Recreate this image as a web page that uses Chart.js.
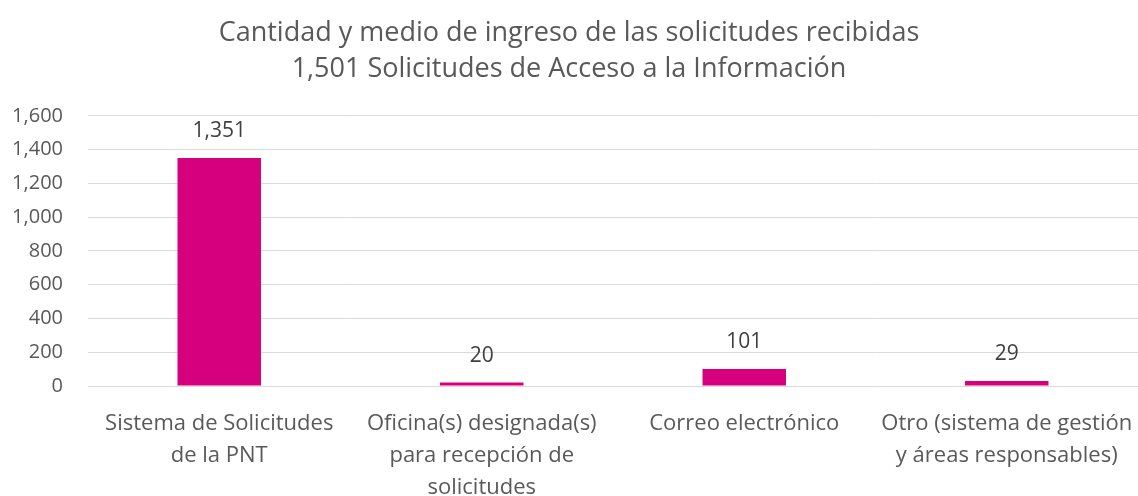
<!DOCTYPE html>
<html>
<head>
<meta charset="utf-8">
<script src="https://cdn.jsdelivr.net/npm/chart.js@4"></script>
<style>
  html, body { margin: 0; padding: 0; background: #fff; }
  #wrap { width: 1138px; height: 496px; }
</style>
</head>
<body>
<div id="wrap"><canvas id="grafica" width="1138" height="496"></canvas></div>
<script>
// datos
const categorias = [
  ['Sistema de Solicitudes', 'de la PNT'],
  ['Oficina(s) designada(s)', 'para recepción de', 'solicitudes'],
  ['Correo electrónico'],
  ['Otro (sistema de gestión', 'y áreas responsables)']
];
const solicitudes = [1351, 20, 101, 29];
const titulo = [
  'Cantidad y medio de ingreso de las solicitudes recibidas',
  '1,501 Solicitudes de Acceso a la Información'
];

const fuente = '"Open Sans", "Noto Sans", sans-serif';
const gris = '#595959';

// etiquetas encima de cada barra
const etiquetas = {
  id: 'etiquetas',
  afterDatasetsDraw(chart) {
    const ctx = chart.ctx;
    const meta = chart.getDatasetMeta(0);
    ctx.save();
    ctx.font = '21px ' + fuente;
    ctx.fillStyle = '#404040';
    ctx.textAlign = 'center';
    ctx.textBaseline = 'middle';
    meta.data.forEach((bar, i) => {
      const v = chart.data.datasets[0].data[i];
      ctx.fillText(v.toLocaleString('en-US'), bar.x, bar.y - 27);
    });
    ctx.restore();
  }
};

const ctx = document.getElementById('grafica').getContext('2d');
new Chart(ctx, {
  type: 'bar',
  data: {
    labels: categorias,
    datasets: [{
      data: solicitudes,
      backgroundColor: '#D6007F',
      categoryPercentage: 1,
      barPercentage: 0.318
    }]
  },
  options: {
    responsive: false,
    animation: false,
    layout: { padding: 0 },
    plugins: {
      legend: { display: false },
      tooltip: { enabled: false },
      title: {
        display: true,
        text: titulo,
        color: gris,
        font: { family: fuente, size: 27, weight: 'normal', lineHeight: 1.35 },
        padding: { top: 15, bottom: 28 }
      }
    },
    scales: {
      x: {
        grid: { display: false },
        border: { display: false },
        ticks: {
          color: gris,
          font: { family: fuente, size: 22, lineHeight: 1.45 },
          maxRotation: 0,
          autoSkip: false,
          padding: 14
        },
        afterFit(scale) {
          scale.height = 110;
          scale.paddingLeft = 0;
          scale.paddingRight = 0;
        }
      },
      y: {
        min: 0,
        max: 1600,
        grid: { color: '#d9d9d9', lineWidth: 1, drawTicks: false },
        border: { display: false },
        ticks: {
          stepSize: 200,
          color: gris,
          font: { family: fuente, size: 20 },
          padding: 25,
          callback: v => v.toLocaleString('en-US')
        },
        afterFit(scale) { scale.width = 88; }
      }
    }
  },
  plugins: [etiquetas]
});
</script>
</body>
</html>
